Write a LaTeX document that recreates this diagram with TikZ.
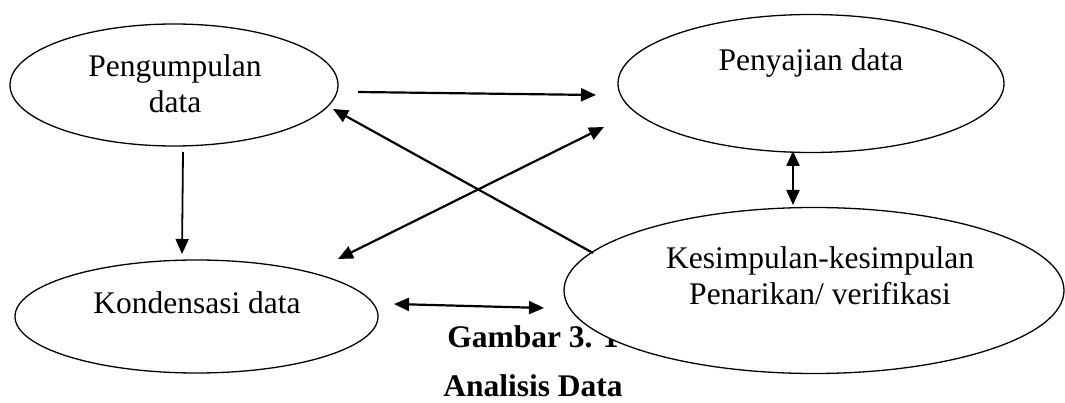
\documentclass[tikz,border=0pt]{standalone}
\usepackage{fontspec}
\setmainfont{Liberation Serif}
\usetikzlibrary{shapes.geometric,arrows.meta}
\begin{document}
\begin{tikzpicture}[x=1pt,y=-1pt,
  ell/.style={ellipse,draw,line width=1.3pt,fill=white,inner sep=0pt},
  lbl/.style={anchor=base,inner sep=0pt,font=\fontsize{31.5}{36}\selectfont},
  captxt/.style={anchor=base,inner sep=0pt,font=\fontsize{31.5}{36}\selectfont\bfseries},
  arr/.style={line width=2.2pt,-{Triangle[length=15pt,width=13pt]}},
  darr/.style={line width=2.2pt,{Triangle[length=15pt,width=13pt]}-{Triangle[length=15pt,width=13pt]}}]
\useasboundingbox (0,0) rectangle (1065,403);
% ellipses
\node[ell,minimum width=328pt,minimum height=122pt] (peng) at (174,85) {};
\node[ell,minimum width=386pt,minimum height=138pt] (peny) at (811,83.5) {};
\node[ell,minimum width=363pt,minimum height=113pt] (kond) at (196.5,316.5) {};
% caption (partly hidden by the last ellipse)
\node[captxt] (cap1) at (533,347) {Gambar 3. 1};
\node[captxt] (cap2) at (533,396) {Analisis Data};
\node[ell,minimum width=500pt,minimum height=166pt] (kes) at (814,290.5) {};
% labels
\node[lbl] (t1a) at (175,77) {Pengumpulan};
\node[lbl] (t1b) at (175,113) {data};
\node[lbl] (t2) at (811,71) {Penyajian data};
\node[lbl] (t3) at (197,313) {Kondensasi data};
\node[lbl] (t4a) at (820,269) {Kesimpulan-kesimpulan};
\node[lbl] (t4b) at (820,304) {Penarikan/ verifikasi};
% connector end points
\coordinate (p1s) at (358,92);
\coordinate (p1e) at (596,95);
\coordinate (p2s) at (593,253);
\coordinate (p2e) at (333,109);
\coordinate (p3s) at (338,259);
\coordinate (p3e) at (604,127);
\coordinate (p4s) at (183,152);
\coordinate (p4e) at (182,254);
\coordinate (p5s) at (793,151);
\coordinate (p5e) at (793,205);
\coordinate (p6s) at (394,304);
\coordinate (p6e) at (544,308);
% connectors
\draw[arr] (p1s) -- (p1e);
\draw[arr] (p2s) -- (p2e);
\draw[darr] (p3s) -- (p3e);
\draw[arr,line width=1.8pt] (p4s) -- (p4e);
\draw[darr] (p5s) -- (p5e);
\draw[darr] (p6s) -- (p6e);
\end{tikzpicture}
\end{document}
